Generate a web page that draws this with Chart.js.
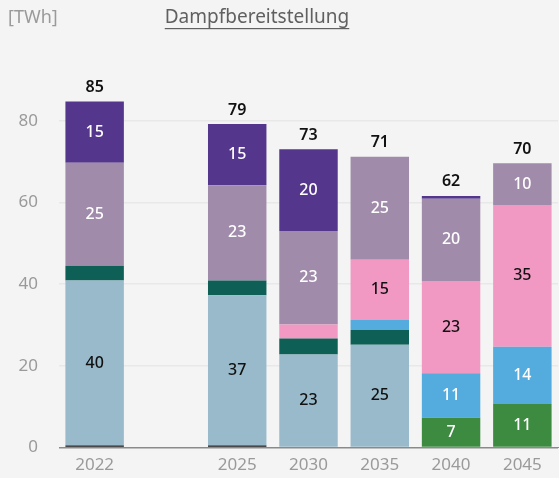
<!DOCTYPE html>
<html>
<head>
<meta charset="utf-8">
<script src="https://cdn.jsdelivr.net/npm/chart.js@4/dist/chart.umd.min.js"></script>
<style>
  html, body { margin: 0; padding: 0; background: #f4f4f4; overflow: hidden; }
  canvas { display: block; }
</style>
</head>
<body>
<canvas id="steamChart" width="559" height="482"></canvas>
<script>
const years = ['2022', '', '2025', '2030', '2035', '2040', '2045'];
const totals = [85, null, 79, 73, 71, 62, 70];

// stacked from bottom to top
const kohle = [0.5, 0, 0.5, 0, 0, 0, 0];
const biomasse = [0, 0, 0, 0, 0, 7.3, 10.7];
const erdgas = [40.4, 0, 36.8, 22.8, 25.2, 0, 0];
const oel = [3.6, 0, 3.6, 3.9, 3.6, 0, 0];
const elektrokessel = [0, 0, 0, 0, 2.4, 10.9, 14];
const waermepumpen = [0, 0, 0, 3.4, 14.8, 22.6, 34.7];
const kwk = [25.2, 0, 23.3, 22.9, 25.2, 20.1, 10.2];
const fernwaerme = [15, 0, 15, 20, 0, 0.7, 0];

const yTicks = [0, 20, 40, 60, 80];
const FONT = '"Noto Sans", sans-serif';

const seriesList = [
  { label: 'Kohle', data: kohle, color: '#111111', text: '#ffffff' },
  { label: 'Biomasse', data: biomasse, color: '#3d8b40', text: '#ffffff' },
  { label: 'Erdgas', data: erdgas, color: '#99bacb', text: '#111111' },
  { label: 'Öl', data: oel, color: '#0e5f55', text: '#ffffff' },
  { label: 'Elektrodenkessel', data: elektrokessel, color: '#53abde', text: '#ffffff' },
  { label: 'Wärmepumpen', data: waermepumpen, color: '#f299c3', text: '#111111' },
  { label: 'KWK', data: kwk, color: '#a08baa', text: '#ffffff' },
  { label: 'Fernwärme', data: fernwaerme, color: '#54378c', text: '#ffffff' },
];

const labelPlugin = {
  id: 'barLabels',
  afterDatasetsDraw(chart) {
    const { ctx } = chart;
    ctx.save();
    ctx.textAlign = 'center';
    ctx.textBaseline = 'middle';
    chart.data.datasets.forEach((ds, i) => {
      const meta = chart.getDatasetMeta(i);
      meta.data.forEach((bar, j) => {
        const v = ds.data[j];
        if (v < 7) return;
        ctx.font = '500 16px ' + FONT;
        ctx.fillStyle = ds.textColor;
        ctx.fillText(String(Math.round(v)), bar.x, (bar.y + bar.base) / 2);
      });
    });
    const yScale = chart.scales.y;
    const xScale = chart.scales.x;
    totals.forEach((t, j) => {
      if (t === null) return;
      const sum = chart.data.datasets.reduce((acc, ds) => acc + ds.data[j], 0);
      ctx.font = '600 16px ' + FONT;
      ctx.fillStyle = '#111111';
      ctx.fillText(String(t), xScale.getPixelForValue(j), yScale.getPixelForValue(sum) - 14);
    });
    ctx.restore();
  },
};

const headerPlugin = {
  id: 'header',
  afterDraw(chart) {
    const { ctx } = chart;
    ctx.save();
    ctx.textBaseline = 'middle';
    ctx.font = '18px ' + FONT;
    ctx.fillStyle = '#9a9a9a';
    ctx.textAlign = 'left';
    ctx.fillText('[TWh]', 8, 18);
    ctx.font = '19px ' + FONT;
    ctx.fillStyle = '#606060';
    ctx.textAlign = 'center';
    const title = 'Dampfbereitstellung';
    ctx.fillText(title, 257, 18);
    const w = ctx.measureText(title).width;
    ctx.fillRect(257 - w / 2, 28, w, 1.2);
    ctx.restore();
  },
};

new Chart(document.getElementById('steamChart'), {
  type: 'bar',
  data: {
    labels: years,
    datasets: seriesList.map((s) => ({
      label: s.label,
      data: s.data,
      backgroundColor: s.color,
      textColor: s.text,
      borderWidth: 0,
      barPercentage: 0.82,
      categoryPercentage: 1,
    })),
  },
  options: {
    responsive: false,
    animation: false,
    devicePixelRatio: 1,
    layout: { padding: { top: 39, right: 1, left: 0, bottom: 0 } },
    plugins: { legend: { display: false }, tooltip: { enabled: false } },
    scales: {
      x: {
        stacked: true,
        grid: { display: false, drawTicks: false },
        border: { display: true, color: '#8a8a8a', width: 1 },
        ticks: { color: '#9a9a9a', font: { family: FONT, size: 17 }, padding: 7 },
      },
      y: {
        stacked: true,
        min: 0,
        max: 100,
        afterBuildTicks(scale) {
          scale.ticks = yTicks.map((v) => ({ value: v }));
        },
        afterFit(scale) {
          scale.width = 59;
        },
        grid: {
          color: (c) => (c.tick && c.tick.value === 0 ? '#8a8a8a' : '#e8e8e8'),
          lineWidth: 1.5,
          drawTicks: false,
        },
        border: { display: false },
        ticks: { color: '#9a9a9a', font: { family: FONT, size: 17 }, padding: 21 },
      },
    },
  },
  plugins: [labelPlugin, headerPlugin],
});
</script>
</body>
</html>
